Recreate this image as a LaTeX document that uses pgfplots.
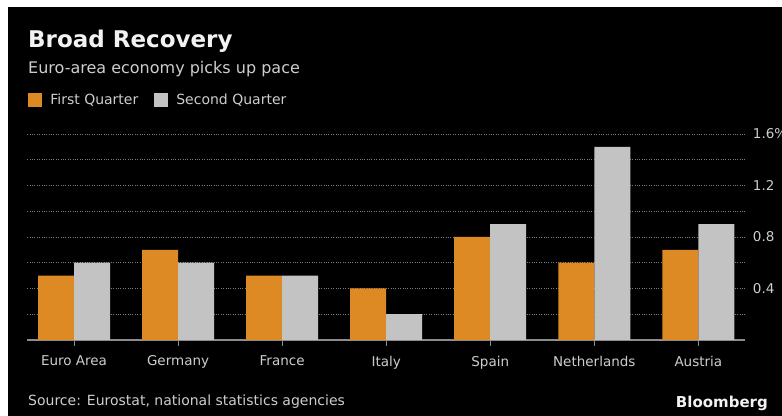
\documentclass[border=0pt]{standalone}
\usepackage{fontspec}
\setmainfont{DejaVu Sans}
\usepackage{pgfplots}
\pgfplotsset{compat=1.18}

\definecolor{qone}{RGB}{221,138,36}
\definecolor{qtwo}{RGB}{195,195,195}
\definecolor{titlec}{RGB}{242,242,242}
\definecolor{labelc}{RGB}{205,205,205}
\definecolor{gridc}{RGB}{125,125,125}
\definecolor{axisc}{RGB}{140,140,140}

\begin{document}
\begin{tikzpicture}
\fill[white] (0bp,0bp) rectangle (782bp,416bp);
\fill[black] (8bp,0bp) rectangle (782bp,409bp);

\node[anchor=base west, inner sep=0, text=titlec,
      font=\bfseries\fontsize{23bp}{27bp}\selectfont] at (28bp,368bp) {Broad Recovery};
\node[anchor=base west, inner sep=0, text=labelc,
      font=\fontsize{16bp}{19bp}\selectfont] at (28bp,342bp) {Euro-area economy picks up pace};
\node[anchor=base west, inner sep=0, text=labelc,
      font=\fontsize{14bp}{17bp}\selectfont] at (28bp,11bp) {Source: Eurostat, national statistics agencies};
\node[anchor=base east, inner sep=0, text=titlec,
      font=\bfseries\fontsize{15bp}{18bp}\selectfont] at (768bp,9bp) {Bloomberg};

\begin{axis}[
    at={(74bp,76bp)}, anchor=origin,
    scale only axis, width=718bp, height=206bp,
    ybar=0pt, bar width=36bp,
    xmin=-0.45, xmax=6.45,
    ymin=0, ymax=1.6,
    axis x line*=bottom,
    axis y line*=right,
    y axis line style={draw=none},
    x axis line style={draw=axisc, line width=1.3bp},
    xtick={0,1,2,3,4,5,6},
    xticklabels={Euro Area,Germany,France,Italy,Spain,Netherlands,Austria},
    xtick style={draw=axisc, line width=1bp},
    tick align=outside,
    major x tick style={/pgfplots/major tick length=6bp},
    ytick={0.4,0.8,1.2,1.6},
    yticklabels={0.4,0.8,1.2,1.6\%},
    minor ytick={0.2,0.6,1.0,1.4},
    ytick style={draw=none},
    major y tick style={/pgfplots/major tick length=0pt},
    ymajorgrids, yminorgrids,
    major grid style={gridc, dotted, line width=0.9bp},
    minor grid style={gridc, dotted, line width=0.9bp},
    /pgf/number format/assume math mode=true,
    xticklabel style={text=labelc, font=\fontsize{13.5bp}{16bp}\selectfont, anchor=north, yshift=-8bp},
    yticklabel style={text=labelc, font=\fontsize{13.5bp}{16bp}\selectfont, anchor=west, xshift=0bp},
    legend columns=2,
    legend style={at={(axis description cs:0,1.165)}, anchor=west, xshift=-2bp,
        draw=none, fill=none, text=labelc,
        nodes={font=\fontsize{14bp}{17bp}\selectfont},
        /tikz/every odd column/.append style={column sep=6bp},
        /tikz/every even column/.append style={column sep=14bp}},
    legend image code/.code={\fill[#1] (-7bp,-7bp) rectangle (7bp,7bp);},
]
\addplot[fill=qone, draw=none] coordinates {
    (0,0.5) (1,0.7) (2,0.5) (3,0.4) (4,0.8) (5,0.6) (6,0.7)};
\addplot[fill=qtwo, draw=none] coordinates {
    (0,0.6) (1,0.6) (2,0.5) (3,0.2) (4,0.9) (5,1.5) (6,0.9)};
\legend{First Quarter,Second Quarter}
\end{axis}

\pgfresetboundingbox
\useasboundingbox (0bp,0bp) rectangle (782bp,416bp);
\end{tikzpicture}
\end{document}
